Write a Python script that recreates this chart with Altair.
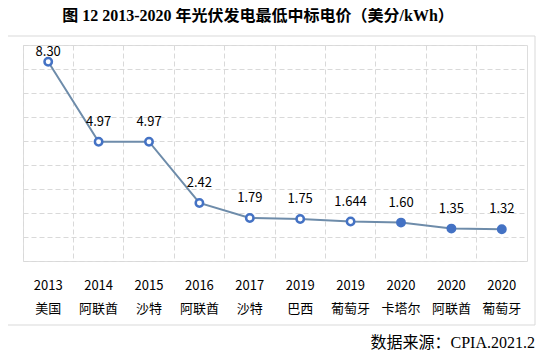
import altair as alt
import pandas as pd

years = ["2013", "2014", "2015", "2016", "2017", "2019", "2019", "2020", "2020", "2020"]
countries = ["美国", "阿联酋", "沙特", "阿联酋", "沙特", "巴西", "葡萄牙", "卡塔尔", "阿联酋", "葡萄牙"]
prices = [8.30, 4.97, 4.97, 2.42, 1.79, 1.75, 1.644, 1.60, 1.35, 1.32]
price_labels = ["8.30", "4.97", "4.97", "2.42", "1.79", "1.75", "1.644", "1.60", "1.35", "1.32"]
y_ticks = [0, 1, 2, 3, 4, 5, 6, 7, 8, 9]

title_text = "图 12 2013-2020 年光伏发电最低中标电价（美分/kWh）"
source_text = "数据来源：CPIA.2021.2"

df = pd.DataFrame({
    "i": list(range(len(years))),
    "key": [f"{y}|{c}" for y, c in zip(years, countries)],
    "price": prices,
    "lab": price_labels,
})
order = list(df["key"])

FONT = "Noto Sans CJK SC"
SERIF = "Liberation Serif, Noto Sans CJK SC"
BLUE = "#4472C4"

x = alt.X("key:N", sort=order, title=None,
          scale=alt.Scale(type="band", paddingInner=0, paddingOuter=0),
          axis=alt.Axis(bandPosition=0, labelAngle=0,
                        labelExpr="split(datum.value, '|')",
                        labelFont=FONT, labelFontSize=13, labelColor="#000000",
                        labelLineHeight=23, labelPadding=18, labelBaseline="top",
                        ticks=False, domain=False,
                        grid=True, gridColor="#D9D9D9", gridDash=[5, 3], gridWidth=1))
y = alt.Y("price:Q", title=None,
          scale=alt.Scale(domain=[0, 9], nice=False, zero=True),
          axis=alt.Axis(values=y_ticks, labels=False, ticks=False, domain=False,
                        grid=True, gridColor="#D9D9D9", gridDash=[5, 3], gridWidth=1))

base = alt.Chart(df)

line = base.mark_line(color="#6E8CAA", strokeWidth=2).encode(x=x, y=y)
pts = base.mark_point(shape="circle", size=55, strokeWidth=2.5, opacity=1, filled=False,
                      stroke=BLUE).encode(
    x=x, y=y,
    fill=alt.condition("datum.i >= 7", alt.value(BLUE), alt.value("white")),
)
txt = base.mark_text(font=FONT, fontSize=13, color="#000000", dy=-20, baseline="middle").encode(
    x=x, y=y, text="lab:N").transform_filter("datum.i > 0")
txt0 = base.mark_text(font=FONT, fontSize=13, color="#000000", dy=-10, baseline="middle").encode(
    x=x, y=y, text="lab:N").transform_filter("datum.i == 0")

one = alt.Data(values=[{}])
frame_color = "#D9D9D9"
top_rule = alt.Chart(one).mark_rule(color=frame_color, strokeWidth=1).encode(
    x=alt.value(-40), x2=alt.value(512), y=alt.value(-9))
bot_rule = alt.Chart(one).mark_rule(color=frame_color, strokeWidth=1).encode(
    x=alt.value(-40), x2=alt.value(512), y=alt.value(280))
right_rule = alt.Chart(one).mark_rule(color=frame_color, strokeWidth=1).encode(
    x=alt.value(512), y=alt.value(-9), y2=alt.value(280))
source = alt.Chart(one).mark_text(font=SERIF, fontSize=16, color="#000000", align="right",
                                  baseline="alphabetic").encode(
    x=alt.value(512), y=alt.value(303), text=alt.value(source_text))

chart = alt.layer(top_rule, bot_rule, right_rule, line, pts, txt, txt0, source).properties(
    width=504, height=216,
    autosize=alt.AutoSizeParams(type="none"),
    padding={"left": 15, "top": 37, "right": 17, "bottom": 90},
    title=alt.TitleParams(title_text, font=SERIF, fontSize=16, fontWeight="bold",
                          color="#000000", anchor="middle", dx=-17, offset=12),
).configure_view(stroke="#A6A6A6", strokeWidth=1).configure(background="white")

chart.save("out.html", embed_options={"renderer": "svg", "actions": False})
